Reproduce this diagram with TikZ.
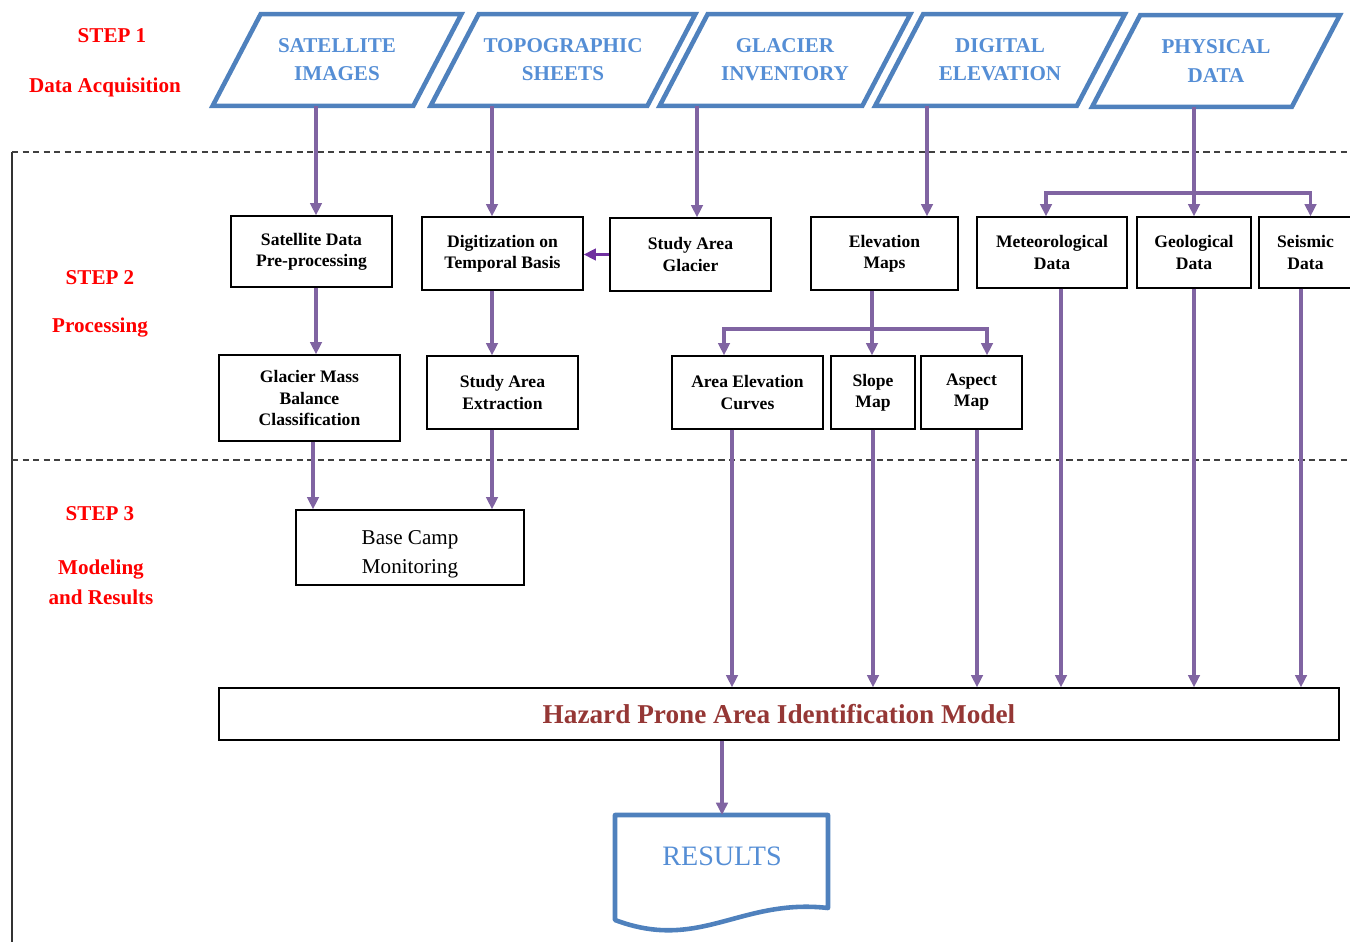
\documentclass[tikz,border=0pt]{standalone}
\usepackage{fontspec}
\setmainfont{Liberation Serif}
\usetikzlibrary{arrows.meta}
\definecolor{srcblue}{RGB}{79,129,189}
\definecolor{srctext}{RGB}{85,142,213}
\definecolor{flowpurple}{RGB}{128,100,162}
\definecolor{linkpurple}{RGB}{112,48,160}
\definecolor{hazardred}{RGB}{149,55,53}

\begin{document}
\begin{tikzpicture}[x=.2mm,y=-.2mm,
  steplbl/.style={text=red,font=\fontsize{12}{14}\selectfont\bfseries},
  source/.style={text=srctext,align=center,inner sep=0pt,
    font=\fontsize{12}{16}\selectfont\bfseries,minimum height=1.82cm},
  srcline/.style={draw=srcblue,line width=2.6pt,line join=miter},
  task/.style={draw=black,line width=.7pt,align=center,inner sep=2pt,font=\fontsize{10}{12}\selectfont\bfseries},
  flow/.style={draw=flowpurple,line width=2.2pt,-{Triangle[length=7pt,width=6.5pt]}},
  sep/.style={draw=black!75,line width=.7pt,dash pattern=on 3.5pt off 2.5pt}]
\useasboundingbox (0,0) rectangle (1350,942);
% step labels
\node[steplbl] (st1) at (112,36) {STEP 1};
\node[steplbl] (st1t) at (105,87) {Data Acquisition};
\node[steplbl] (st2) at (100,278) {STEP 2};
\node[steplbl] (st2t) at (100,328) {Processing};
\node[steplbl] (st3) at (100,514) {STEP 3};
\node[steplbl,align=center,font=\fontsize{12}{17}\selectfont\bfseries] (st3t) at (101,582) {Modeling\\and Results};
% frame
\draw[black!80,line width=.7pt] (12,152) -- (12,942);
\draw[sep] (12,152) -- (1350,152);
\draw[sep] (12,460) -- (1350,460);
% data sources
\node[source,minimum width=4.0cm] (satimg) at (337,60) {SATELLITE\\IMAGES};
\node[source,minimum width=4.32cm] (topo) at (563,60) {TOPOGRAPHIC\\SHEETS};
\node[source,minimum width=4.04cm] (glac) at (785,60) {GLACIER\\INVENTORY};
\node[source,minimum width=4.02cm] (dem) at (1000,60) {DIGITAL\\ELEVATION};
\node[source,minimum width=3.98cm] (phys) at (1216,61) {PHYSICAL\\DATA};
\foreach \n in {satimg,topo,glac,dem,phys}
  \draw[srcline] ([xshift=-4.8mm]\n.south west) -- ([xshift=4.8mm]\n.north west)
    -- ([xshift=4.8mm]\n.north east) -- ([xshift=-4.8mm]\n.south east) -- cycle;
% processing
\node[task,minimum width=3.22cm,minimum height=1.42cm] (satpre) at (311.5,251.5) {Satellite Data\\Pre-processing};
\node[task,minimum width=3.22cm,minimum height=1.46cm] (digit) at (502.5,253.5) {Digitization on\\Temporal Basis};
\node[task,minimum width=3.22cm,minimum height=1.46cm] (sag) at (690.5,254.5) {Study Area\\Glacier};
\node[task,minimum width=2.94cm,minimum height=1.46cm] (elev) at (884.5,253.5) {Elevation\\Maps};
\node[task,minimum width=3.0cm,minimum height=1.42cm] (met) at (1052,252.5) {Meteorological\\Data};
\node[task,minimum width=2.28cm,minimum height=1.42cm] (geol) at (1194,252.5) {Geological\\Data};
\node[task,minimum width=1.86cm,minimum height=1.42cm] (seis) at (1305.5,252.5) {Seismic\\Data};
\node[task,minimum width=3.62cm,minimum height=1.72cm] (gmb) at (309.5,398) {Glacier Mass\\Balance\\Classification};
\node[task,minimum width=3.02cm,minimum height=1.46cm] (sae) at (502.5,392.5) {Study Area\\Extraction};
\node[task,minimum width=3.02cm,minimum height=1.46cm] (aec) at (747.5,392.5) {Area Elevation\\Curves};
\node[task,minimum width=1.68cm,minimum height=1.46cm] (slope) at (873,392.5) {Slope\\Map};
\node[task,minimum width=2.02cm,minimum height=1.46cm] (aspect) at (971.5,392.5) {Aspect\\Map};
% modeling
\node[task,font=\fontsize{12}{16.5}\selectfont,minimum width=4.56cm,minimum height=1.5cm] (bcm) at (410,547.5) {\rule{0pt}{16pt}Base Camp\\Monitoring};
\node[task,text=hazardred,font=\fontsize{15.5}{18}\selectfont\bfseries,minimum width=22.4cm,minimum height=1.04cm] (hazard) at (779,714) {Hazard Prone Area Identification Model};
% results document
\draw[srcline,line join=round] (615,815) -- (828,815) -- (828,908)
  .. controls (740,898) and (700,952) .. (615,920) -- cycle;
\node[text=srctext,font=\fontsize{16}{18}\selectfont] (results) at (722,856) {RESULTS};
\coordinate (restop) at (722,815);
% connectors
\draw[flow] ([xshift=.9mm]satpre.north |- satimg.south) -- ([xshift=.9mm]satpre.north);
\draw[flow] ([xshift=-2.1mm]digit.north |- topo.south) -- ([xshift=-2.1mm]digit.north);
\draw[flow] ([xshift=1.3mm]sag.north |- glac.south) -- ([xshift=1.3mm]sag.north);
\draw[flow] ([xshift=8.5mm]elev.north |- dem.south) -- ([xshift=8.5mm]elev.north);
\draw[flow] (geol.north |- phys.south) -- (geol.north);
\coordinate (physfork) at (1194,193);
\draw[flow] (physfork) -| ([xshift=-1.2mm]met.north);
\draw[flow] (physfork) -| ([xshift=1mm]seis.north);
\draw[flow] ([xshift=.9mm]satpre.south) -- ([xshift=.9mm]satpre.south |- gmb.north);
\draw[flow] ([xshift=-2.1mm]digit.south) -- ([xshift=-2.1mm]digit.south |- sae.north);
\draw[flow,draw=linkpurple] (sag.west) -- (sag.west -| digit.east);
\draw[flow] ([xshift=-2.5mm]elev.south) -- ([xshift=-2.5mm]elev.south |- slope.north);
\coordinate (elevfork) at (872,329);
\draw[flow] (elevfork) -| ([xshift=-4.7mm]aec.north);
\draw[flow] (elevfork) -| ([xshift=3.1mm]aspect.north);
\draw[flow] ([xshift=.7mm]gmb.south) -- ([xshift=.7mm]gmb.south |- bcm.north);
\draw[flow] ([xshift=-2.1mm]sae.south) -- ([xshift=-2.1mm]sae.south |- bcm.north);
\draw[flow] ([xshift=-3.1mm]aec.south) -- ([xshift=-3.1mm]aec.south |- hazard.north);
\draw[flow] (slope.south) -- (slope.south |- hazard.north);
\draw[flow] ([xshift=1.1mm]aspect.south) -- ([xshift=1.1mm]aspect.south |- hazard.north);
\draw[flow] ([xshift=1.8mm]met.south) -- ([xshift=1.8mm]met.south |- hazard.north);
\draw[flow] (geol.south) -- (geol.south |- hazard.north);
\draw[flow] ([xshift=-.9mm]seis.south) -- ([xshift=-.9mm]seis.south |- hazard.north);
\draw[flow] (hazard.south -| restop) -- (restop);
\end{tikzpicture}
\end{document}
